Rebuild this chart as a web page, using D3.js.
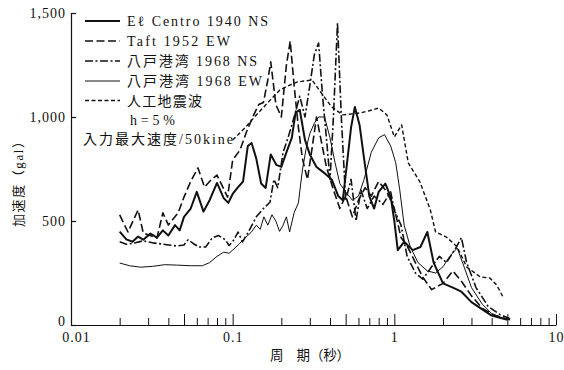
<!DOCTYPE html>
<html>
<head>
<meta charset="utf-8">
<script src="https://cdn.jsdelivr.net/npm/d3@7"></script>
<style>
  body { margin: 0; background: #fff; }
  svg { display: block; }
</style>
</head>
<body>
<svg id="chart" width="564" height="370"></svg>
<script>
// Acceleration response spectra (h = 5%), inputs scaled to 50 kine: [period s, acceleration gal]
const elCentro = [[0.020,449],[0.022,412],[0.024,400],[0.026,425],[0.028,410],[0.031,440],[0.034,420],[0.037,455],[0.040,430],[0.044,480],[0.047,455],[0.050,520],[0.055,560],[0.060,640],[0.066,545],[0.072,600],[0.080,683],[0.088,610],[0.094,587],[0.100,630],[0.108,663],[0.116,690],[0.124,860],[0.131,875],[0.140,800],[0.150,680],[0.160,659],[0.172,820],[0.186,770],[0.200,760],[0.215,830],[0.232,900],[0.245,1020],[0.260,1035],[0.280,890],[0.300,820],[0.330,760],[0.370,730],[0.410,700],[0.450,620],[0.480,600],[0.510,780],[0.540,950],[0.570,1048],[0.610,960],[0.650,800],[0.700,620],[0.750,560],[0.800,640],[0.880,680],[0.950,615],[1.000,500],[1.050,360],[1.150,400],[1.300,360],[1.450,375],[1.600,447],[1.750,300],[2.000,200],[2.300,180],[2.600,160],[3.000,110],[3.500,75],[4.000,45],[5.000,25]];
const taft = [[0.020,529],[0.0225,447],[0.026,553],[0.028,442],[0.034,418],[0.037,539],[0.040,481],[0.046,539],[0.050,615],[0.055,690],[0.061,755],[0.067,663],[0.074,700],[0.080,721],[0.093,615],[0.100,793],[0.111,841],[0.122,930],[0.133,1000],[0.145,1060],[0.155,1070],[0.165,1178],[0.172,1265],[0.185,1060],[0.200,1000],[0.215,1250],[0.227,1365],[0.240,1150],[0.255,950],[0.270,800],[0.290,700],[0.310,850],[0.330,1000],[0.350,900],[0.380,760],[0.420,650],[0.460,560],[0.500,620],[0.550,520],[0.600,600],[0.660,660],[0.720,620],[0.800,690],[0.900,640],[1.000,560],[1.100,420],[1.200,380],[1.350,300],[1.500,230],[1.700,170],[2.000,200],[2.300,260],[2.600,210],[3.000,140],[3.500,80],[4.200,45],[5.200,25]];
const hachinoheNS = [[0.020,400],[0.022,388],[0.025,395],[0.028,405],[0.032,395],[0.036,390],[0.040,385],[0.045,380],[0.050,385],[0.053,410],[0.057,392],[0.062,375],[0.068,375],[0.075,420],[0.082,430],[0.090,410],[0.095,382],[0.100,400],[0.108,447],[0.115,400],[0.125,447],[0.140,520],[0.155,560],[0.170,590],[0.180,700],[0.190,660],[0.205,830],[0.220,900],[0.240,1000],[0.260,1100],[0.280,1000],[0.300,1150],[0.320,1300],[0.340,1356],[0.360,1100],[0.380,900],[0.400,700],[0.420,1000],[0.445,1452],[0.470,1000],[0.500,600],[0.540,700],[0.580,500],[0.620,650],[0.680,560],[0.750,620],[0.850,580],[0.950,640],[1.000,550],[1.100,480],[1.200,330],[1.350,250],[1.500,220],[1.700,280],[1.900,330],[2.100,300],[2.400,370],[2.600,420],[2.800,300],[3.200,180],[3.800,90],[4.500,50],[5.200,30]];
const hachinoheEW = [[0.020,298],[0.023,285],[0.027,278],[0.032,282],[0.038,290],[0.045,288],[0.055,285],[0.065,285],[0.072,300],[0.080,330],[0.088,350],[0.095,345],[0.100,360],[0.110,390],[0.120,420],[0.130,445],[0.140,480],[0.148,460],[0.156,520],[0.165,480],[0.175,530],[0.185,500],[0.195,450],[0.205,480],[0.215,520],[0.225,447],[0.240,540],[0.255,587],[0.270,745],[0.285,850],[0.300,920],[0.320,970],[0.340,1000],[0.370,1000],[0.400,900],[0.430,780],[0.460,680],[0.500,640],[0.550,600],[0.600,620],[0.650,700],[0.720,830],[0.800,900],[0.870,915],[0.950,860],[1.020,780],[1.080,650],[1.150,480],[1.250,380],[1.400,300],[1.600,260],[1.800,250],[2.000,280],[2.200,330],[2.450,370],[2.700,280],[3.000,180],[3.500,100],[4.000,55],[5.000,25]];
const artificial = [[0.100,889],[0.120,950],[0.140,1010],[0.170,1080],[0.196,1130],[0.220,1150],[0.250,1168],[0.310,1178],[0.350,1120],[0.410,1048],[0.480,1010],[0.550,1015],[0.620,1020],[0.700,1030],[0.800,1043],[0.900,1010],[1.000,904],[1.110,962],[1.220,779],[1.440,688],[1.670,553],[1.800,447],[2.100,423],[2.450,375],[2.800,279],[3.400,231],[3.900,226],[4.300,192],[4.700,135]];

const seriesNames = ["Eℓ Centro 1940 NS", "Taft 1952 EW", "八戸港湾 1968 NS", "八戸港湾 1968 EW", "人工地震波"];
const yTickValues = [0, 500, 1000, 1500];
const xLabelValues = [0.01, 0.1, 1, 10];
const xLabelTexts = ["0.01", "0.1", "1", "10"];
const yTitle = "加速度（gal）";
const xTitle = "周　期（秒）";
const noteLines = ["h=5%", "入力最大速度/50kine"];

// drawing styles for each series, in legend order
const seriesData = [elCentro, taft, hachinoheNS, hachinoheEW, artificial];
const seriesStyle = [
  { width: 2.0, dash: null },
  { width: 1.6, dash: "8,3.5" },
  { width: 1.6, dash: "8,2.5,2,2.5" },
  { width: 1.0, dash: null },
  { width: 1.4, dash: "4,2.5" }
];
const legendTextWidth = [141, 103, 130, 135, 75];

const FONT = "'Liberation Serif', 'Times New Roman', 'DejaVu Serif', 'Noto Sans CJK JP', serif";
const ink = "#111";

const svg = d3.select("#chart");

const x = d3.scaleLog().domain([0.01, 10]).range([71, 556]);
const y = d3.scaleLinear().domain([0, 1500]).range([325, 13]);

// x ticks: every integer multiple within each decade
const xTicks = [];
[0.01, 0.1, 1].forEach(dec => { for (let k = 1; k <= 9; k++) xTicks.push(+(k * dec).toPrecision(3)); });
xTicks.push(10);

const xAxis = d3.axisBottom(x)
  .tickValues(xTicks)
  .tickSize(-7)
  .tickSizeOuter(0)
  .tickPadding(7)
  .tickFormat(d => {
    const i = xLabelValues.findIndex(v => Math.abs(v - d) < 1e-9);
    return i >= 0 ? xLabelTexts[i] : "";
  });

const gx = svg.append("g").attr("transform", "translate(0,325)").call(xAxis)
  .attr("font-family", FONT).attr("font-size", 14);
gx.select(".domain").attr("stroke", ink).attr("stroke-width", 1.2);
gx.selectAll(".tick line").attr("stroke", ink).attr("stroke-width", 1)
  .attr("y2", d => {
    const m = d / Math.pow(10, Math.floor(Math.log10(d) + 1e-9));
    return (Math.abs(m - 1) < 1e-6 || Math.abs(m - 5) < 1e-6) ? -11 : -7;
  });
gx.selectAll(".tick text")
  .attr("fill", ink)
  .style("font-family", FONT)
  .style("letter-spacing", "1px")
  .attr("dx", d => (d === 0.01 ? 5 : 0));

const yAxis = d3.axisLeft(y)
  .tickValues(yTickValues)
  .tickSize(-5)
  .tickSizeOuter(0)
  .tickPadding(5)
  .tickFormat(d3.format(","));

const gy = svg.append("g").attr("transform", "translate(71,0)").call(yAxis)
  .attr("font-family", FONT).attr("font-size", 14);
gy.select(".domain").attr("stroke", ink).attr("stroke-width", 1.2);
gy.selectAll(".tick line").attr("stroke", ink).attr("stroke-width", 1.2);
gy.selectAll(".tick text")
  .attr("fill", ink)
  .style("font-family", FONT)
  .style("letter-spacing", "1px")
  .attr("y", d => (d === 0 ? -4 : 0));

// spectra
const line = d3.line().x(d => x(d[0])).y(d => y(d[1]));
const gLines = svg.append("g").attr("fill", "none").attr("stroke", ink)
  .attr("stroke-linejoin", "round");
seriesData.forEach((data, i) => {
  gLines.append("path")
    .attr("d", line(data))
    .attr("stroke-width", seriesStyle[i].width)
    .attr("stroke-dasharray", seriesStyle[i].dash);
});

// legend
const legendRows = [21, 41, 61, 81, 100.5];
const gLegend = svg.append("g").attr("font-family", FONT).attr("font-size", 14).attr("fill", ink);
seriesNames.forEach((name, i) => {
  const yy = legendRows[i];
  gLegend.append("line")
    .attr("x1", 85).attr("x2", 120).attr("y1", yy).attr("y2", yy)
    .attr("stroke", ink)
    .attr("stroke-width", seriesStyle[i].width)
    .attr("stroke-dasharray", seriesStyle[i].dash);
  gLegend.append("text")
    .attr("x", 127).attr("y", yy + 5)
    .attr("textLength", legendTextWidth[i])
    .attr("lengthAdjust", "spacing")
    .style("font-family", FONT)
    .text(name);
});
gLegend.append("text")
  .attr("x", 130).attr("y", 124.5)
  .attr("textLength", 45).attr("lengthAdjust", "spacing")
  .style("font-family", FONT)
  .text(noteLines[0]);
gLegend.append("text")
  .attr("x", 83).attr("y", 143.5)
  .attr("textLength", 150).attr("lengthAdjust", "spacing")
  .style("font-family", FONT)
  .text(noteLines[1]);

// axis titles
svg.append("text")
  .attr("transform", "translate(23,181) rotate(-90)")
  .attr("text-anchor", "middle")
  .attr("textLength", 92).attr("lengthAdjust", "spacing")
  .attr("fill", ink)
  .style("font-family", FONT)
  .style("font-size", "13px")
  .text(yTitle);

svg.append("text")
  .attr("x", 310).attr("y", 360)
  .attr("text-anchor", "middle")
  .attr("textLength", 80).attr("lengthAdjust", "spacing")
  .attr("fill", ink)
  .style("font-family", FONT)
  .style("font-size", "13.5px")
  .text(xTitle);
</script>
</body>
</html>
